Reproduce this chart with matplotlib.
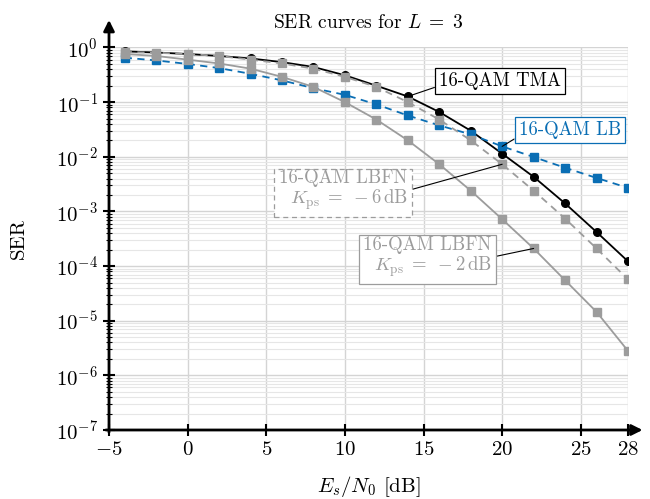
import matplotlib
matplotlib.use("Agg")
import matplotlib.pyplot as plt
import numpy as np

plt.rcParams['font.family'] = 'serif'
plt.rcParams['font.serif'] = ['cmr10']
plt.rcParams['mathtext.fontset'] = 'cm'
plt.rcParams['axes.formatter.use_mathtext'] = True

snr_db = [-4, -2, 0, 2, 4, 6, 8, 10, 12, 14, 16, 18, 20, 22, 24, 26, 28]
ser_tma = [0.85, 0.81, 0.76, 0.70, 0.63, 0.54, 0.44, 0.31, 0.20, 0.127, 0.066, 0.030,
           0.0114, 0.0043, 0.0014, 0.00042, 0.000122]
ser_lb = [0.65, 0.58, 0.50, 0.42, 0.33, 0.25, 0.18, 0.136, 0.091, 0.057, 0.0375, 0.0257,
          0.0155, 0.0099, 0.0063, 0.0041, 0.0027]
ser_lbfn_m6 = [0.83, 0.80, 0.76, 0.70, 0.60, 0.51, 0.41, 0.29, 0.19, 0.10, 0.048, 0.020,
               0.0073, 0.0024, 0.00074, 0.00021, 0.000057]
ser_lbfn_m2 = [0.76, 0.70, 0.60, 0.51, 0.41, 0.29, 0.19, 0.10, 0.048, 0.020, 0.0073, 0.0024,
               0.00072, 0.00021, 0.000055, 0.0000145, 0.0000028]
xticks = [-5, 0, 5, 10, 15, 20, 25, 28]

BLUE = '#0a6eb4'
GRAY = '#9c9c9c'

fig = plt.figure(figsize=(6.5, 4.99), dpi=100)
ax = fig.add_axes([109/650, 1-430/499, (628-109)/650, (430-47.5)/499])

ax.plot(snr_db, ser_tma, '-o', color='black', lw=1.3, ms=5.5, zorder=3)
ax.plot(snr_db, ser_lb, '--s', color=BLUE, lw=1.3, ms=5.5, dashes=(4, 3), zorder=3)
ax.plot(snr_db, ser_lbfn_m6, '--s', color=GRAY, lw=1.3, ms=5.5, dashes=(4, 3), zorder=4)
ax.plot(snr_db, ser_lbfn_m2, '-s', color=GRAY, lw=1.3, ms=5.5, zorder=4)

ax.set_yscale('log')
ax.set_xlim(-5, 28)
ax.set_ylim(1e-7, 1.0)
ax.set_xticks(xticks)
ax.set_yticks([10.0**k for k in range(-7, 1)])

ax.grid(True, which='major', color='#d4d4d4', lw=1.0, zorder=0)
ax.grid(True, which='minor', axis='y', color='#e6e6e6', lw=0.8, zorder=0)
ax.set_axisbelow(True)

for s in ax.spines.values():
    s.set_visible(False)
ax.tick_params(which='major', direction='inout', length=8, width=1.5, labelsize=15, pad=4)
ax.tick_params(which='minor', direction='inout', length=4, width=0.8)
ax.tick_params(axis='x', which='minor', bottom=False)

ax.annotate('', xy=(1.028, 0), xytext=(-0.006, 0), xycoords='axes fraction',
            arrowprops=dict(arrowstyle='-|>', lw=2, color='black', mutation_scale=16,
                            shrinkA=0, shrinkB=0), annotation_clip=False)
ax.annotate('', xy=(0, 1.072), xytext=(0, -0.006), xycoords='axes fraction',
            arrowprops=dict(arrowstyle='-|>', lw=2, color='black', mutation_scale=16,
                            shrinkA=0, shrinkB=0), annotation_clip=False)

ax.set_title('SER curves for $L\\;=\\;3$', fontsize=14, pad=14)
ax.set_xlabel('$E_s/N_0$ [dB]', fontsize=15, labelpad=11)
ax.set_ylabel('SER', fontsize=15, labelpad=20)

FS = 13.5
i14 = snr_db.index(14)
ax.annotate('16-QAM TMA', xy=(14, ser_tma[i14]), xytext=(19.86, 0.245),
            ha='center', va='center', fontsize=FS,
            bbox=dict(boxstyle='square,pad=0.22', fc='white', ec='black', lw=0.9),
            arrowprops=dict(arrowstyle='-', color='black', lw=0.8, shrinkA=0, shrinkB=0,
                            relpos=(0.0, 0.22)), zorder=6)
i20 = snr_db.index(20)
ax.annotate('16-QAM LB', xy=(20, ser_lb[i20]), xytext=(24.3, 0.031),
            ha='center', va='center', fontsize=FS, color=BLUE,
            bbox=dict(boxstyle='square,pad=0.22', fc='white', ec=BLUE, lw=0.9),
            arrowprops=dict(arrowstyle='-', color='black', lw=0.8, shrinkA=0, shrinkB=0,
                            relpos=(0.0, 0.15)), zorder=6)
ax.annotate('16-QAM LBFN\n$K_{\\mathrm{ps}}\\;=\\;-6\\,\\mathrm{dB}$', xy=(20, ser_lbfn_m6[i20]),
            xytext=(9.9, 0.0024), ha='center', va='center', multialignment='right',
            fontsize=FS, color=GRAY, linespacing=1.05,
            bbox=dict(boxstyle='square,pad=0.25', fc='white', ec=GRAY, lw=0.9, ls=(0, (4, 3))),
            arrowprops=dict(arrowstyle='-', color='black', lw=0.8, shrinkA=0, shrinkB=0,
                            relpos=(1.0, 0.5)), zorder=6)
i22 = snr_db.index(22)
ax.annotate('16-QAM LBFN\n$K_{\\mathrm{ps}}\\;=\\;-2\\,\\mathrm{dB}$', xy=(22, ser_lbfn_m2[i22]),
            xytext=(15.25, 1.45e-4), ha='center', va='center', multialignment='right',
            fontsize=FS, color=GRAY, linespacing=1.05,
            bbox=dict(boxstyle='square,pad=0.25', fc='white', ec=GRAY, lw=0.9),
            arrowprops=dict(arrowstyle='-', color='black', lw=0.8, shrinkA=0, shrinkB=0,
                            relpos=(1.0, 0.5)), zorder=6)

fig.savefig('out.png', dpi=100)
